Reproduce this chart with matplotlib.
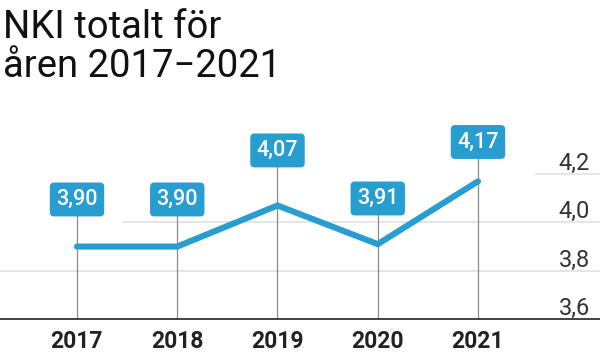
import matplotlib.pyplot as plt
import matplotlib.transforms as mtransforms


# data
years = [2017, 2018, 2019, 2020, 2021]
nki = [3.90, 3.90, 4.07, 3.91, 4.17]
value_labels = ['3,90', '3,90', '4,07', '3,91', '4,17']
y_ticks = [3.6, 3.8, 4.0, 4.2]
y_tick_labels = ['3,6', '3,8', '4,0', '4,2']
title_lines = ['NKI totalt för', 'åren 2017\u22122021']

# how far above the point each label box sits (data units)
label_lift = [0.195, 0.195, 0.228, 0.189, 0.163]

blue = '#279dd0'

plt.rcParams['font.family'] = ['Roboto', 'DejaVu Sans']

fig = plt.figure(figsize=(6, 3.56), dpi=100)
ax = fig.add_axes([0, 37 / 356, 1, 219 / 356])

ax.set_xlim(2016.232, 2022.217)
ax.set_ylim(3.6, 3.6 + 219 / 241.5)

# gridlines (partly hidden like the original)
ax.axhline(3.8, xmin=0.0, xmax=1, color='#e3e3e3', lw=1.3, zorder=0)
ax.axhline(4.0, xmin=0.205, xmax=1, color='#e3e3e3', lw=1.3, zorder=0)
ax.axhline(4.2, xmin=0.893, xmax=1, color='#e3e3e3', lw=1.3, zorder=0)

# vertical drop lines from baseline to label boxes
for x, v, lift in zip(years, nki, label_lift):
    ax.vlines(x, 3.6, v + lift, color='#8a8a8a', lw=0.9, zorder=1)

ax.plot(years, nki, color=blue, lw=4.4, solid_capstyle='round',
        solid_joinstyle='miter', zorder=3)

for x, v, lift, lab in zip(years, nki, label_lift, value_labels):
    ax.text(x, v + lift, lab, ha='center', va='center', color='white',
            fontsize=15.5, fontweight='medium', zorder=5,
            bbox=dict(boxstyle='round,pad=0.3,rounding_size=0.2',
                      fc=blue, ec='none'))

# y tick labels on the right, above gridlines
trans = mtransforms.blended_transform_factory(ax.transAxes, ax.transData)
for v, lab in zip(y_ticks, y_tick_labels):
    ax.annotate(lab, xy=(1, v), xycoords=trans, xytext=(-7.2, 3),
                textcoords='offset points', ha='right', va='baseline',
                fontsize=17, color='#333333')

ax.set_xticks(years)
ax.set_xticklabels([str(y) for y in years], fontsize=16.5, fontweight='bold',
                   color='#222222')
ax.tick_params(axis='x', length=0, pad=8)
ax.set_yticks([])

for side in ['top', 'left', 'right']:
    ax.spines[side].set_visible(False)
ax.spines['bottom'].set_color('#333333')
ax.spines['bottom'].set_linewidth(1.3)

# title
fig.text(3 / 600, 1 - 37.7 / 356, title_lines[0], fontsize=27.5, color='#111111',
         ha='left', va='baseline')
fig.text(3 / 600, 1 - 77.3 / 356, title_lines[1], fontsize=27.5, color='#111111',
         ha='left', va='baseline')

fig.savefig('out.png', dpi=100, facecolor='white')
